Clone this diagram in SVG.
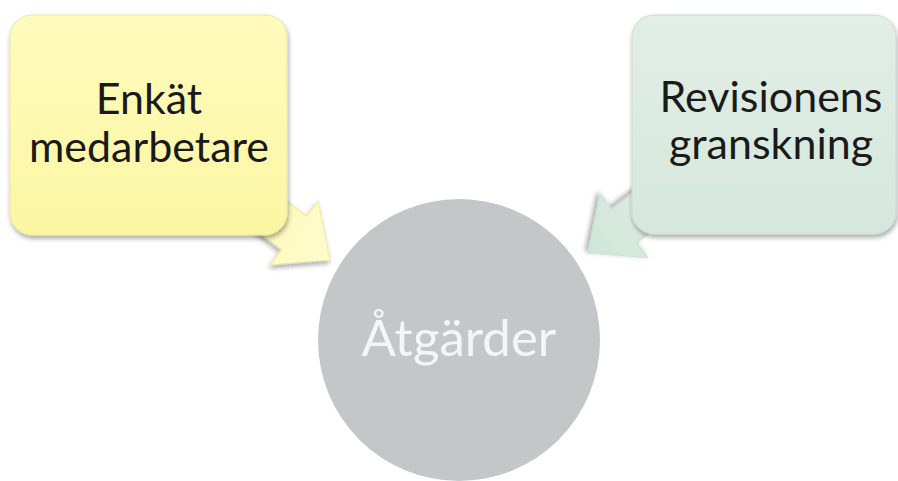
<svg xmlns="http://www.w3.org/2000/svg" width="898" height="481" viewBox="0 0 898 481">
  <defs>
    <linearGradient id="gYel" x1="0" y1="0" x2="0" y2="1">
      <stop offset="0" stop-color="#fffbbd"/>
      <stop offset="1" stop-color="#fbf6a2"/>
    </linearGradient>
    <linearGradient id="gGrn" x1="0" y1="0" x2="0" y2="1">
      <stop offset="0" stop-color="#e2eee6"/>
      <stop offset="1" stop-color="#d5e7dc"/>
    </linearGradient>
    <linearGradient id="gYelArr" x1="0" y1="0" x2="1" y2="0">
      <stop offset="0" stop-color="#fdf9b4"/>
      <stop offset="1" stop-color="#fefbcc"/>
    </linearGradient>
    <linearGradient id="gGrnArr" x1="0" y1="0" x2="1" y2="0">
      <stop offset="0" stop-color="#e3efe7"/>
      <stop offset="1" stop-color="#cfe5d8"/>
    </linearGradient>
    <filter id="sh" x="-10%" y="-10%" width="125%" height="125%">
      <feGaussianBlur in="SourceAlpha" stdDeviation="2.5"/>
      <feOffset dx="1" dy="3" result="b"/>
      <feComponentTransfer><feFuncA type="linear" slope="0.35"/></feComponentTransfer>
      <feMerge><feMergeNode/><feMergeNode in="SourceGraphic"/></feMerge>
    </filter>
    <polygon id="arrow" points="0,0 -45,-40 -45,-21 -120,-21 -120,21 -45,21 -45,40"/>
  </defs>
  <style>
    .lbl { font-family: Lato, "Open Sans", "Liberation Sans", sans-serif; font-size: 43px; fill: #1a1a1a; text-anchor: middle; }
    .ctr { font-family: Lato, "Open Sans", "Liberation Sans", sans-serif; font-size: 51px; fill: #f5f5f5; text-anchor: middle; }
  </style>
  <rect width="898" height="481" fill="#ffffff"/>

  <g id="connectors">
    <use href="#arrow" transform="translate(330,260) rotate(37)" fill="url(#gYelArr)" stroke="#e8e39a" stroke-width="1" filter="url(#sh)"/>
    <use href="#arrow" transform="translate(588,253) rotate(143)" fill="url(#gGrnArr)" stroke="#c5dccd" stroke-width="1" filter="url(#sh)"/>
  </g>

  <g id="node-enkat">
    <rect x="10" y="15" width="277" height="220" rx="22" fill="url(#gYel)" stroke="#ece7a4" stroke-width="1" filter="url(#sh)"/>
    <text class="lbl" x="149" y="114"><tspan x="149">Enkät</tspan><tspan x="149" dy="48">medarbetare</tspan></text>
  </g>

  <g id="node-revision">
    <rect x="632" y="15" width="264" height="219" rx="22" fill="url(#gGrn)" stroke="#c9dccf" stroke-width="1" filter="url(#sh)"/>
    <text class="lbl" x="771" y="112"><tspan x="771">Revisionens</tspan><tspan x="771" dy="47">granskning</tspan></text>
  </g>

  <g id="node-atgarder">
    <circle cx="459" cy="340" r="141" fill="#c4c6c7"/>
    <text class="ctr" x="459" y="356">Åtgärder</text>
  </g>
</svg>
